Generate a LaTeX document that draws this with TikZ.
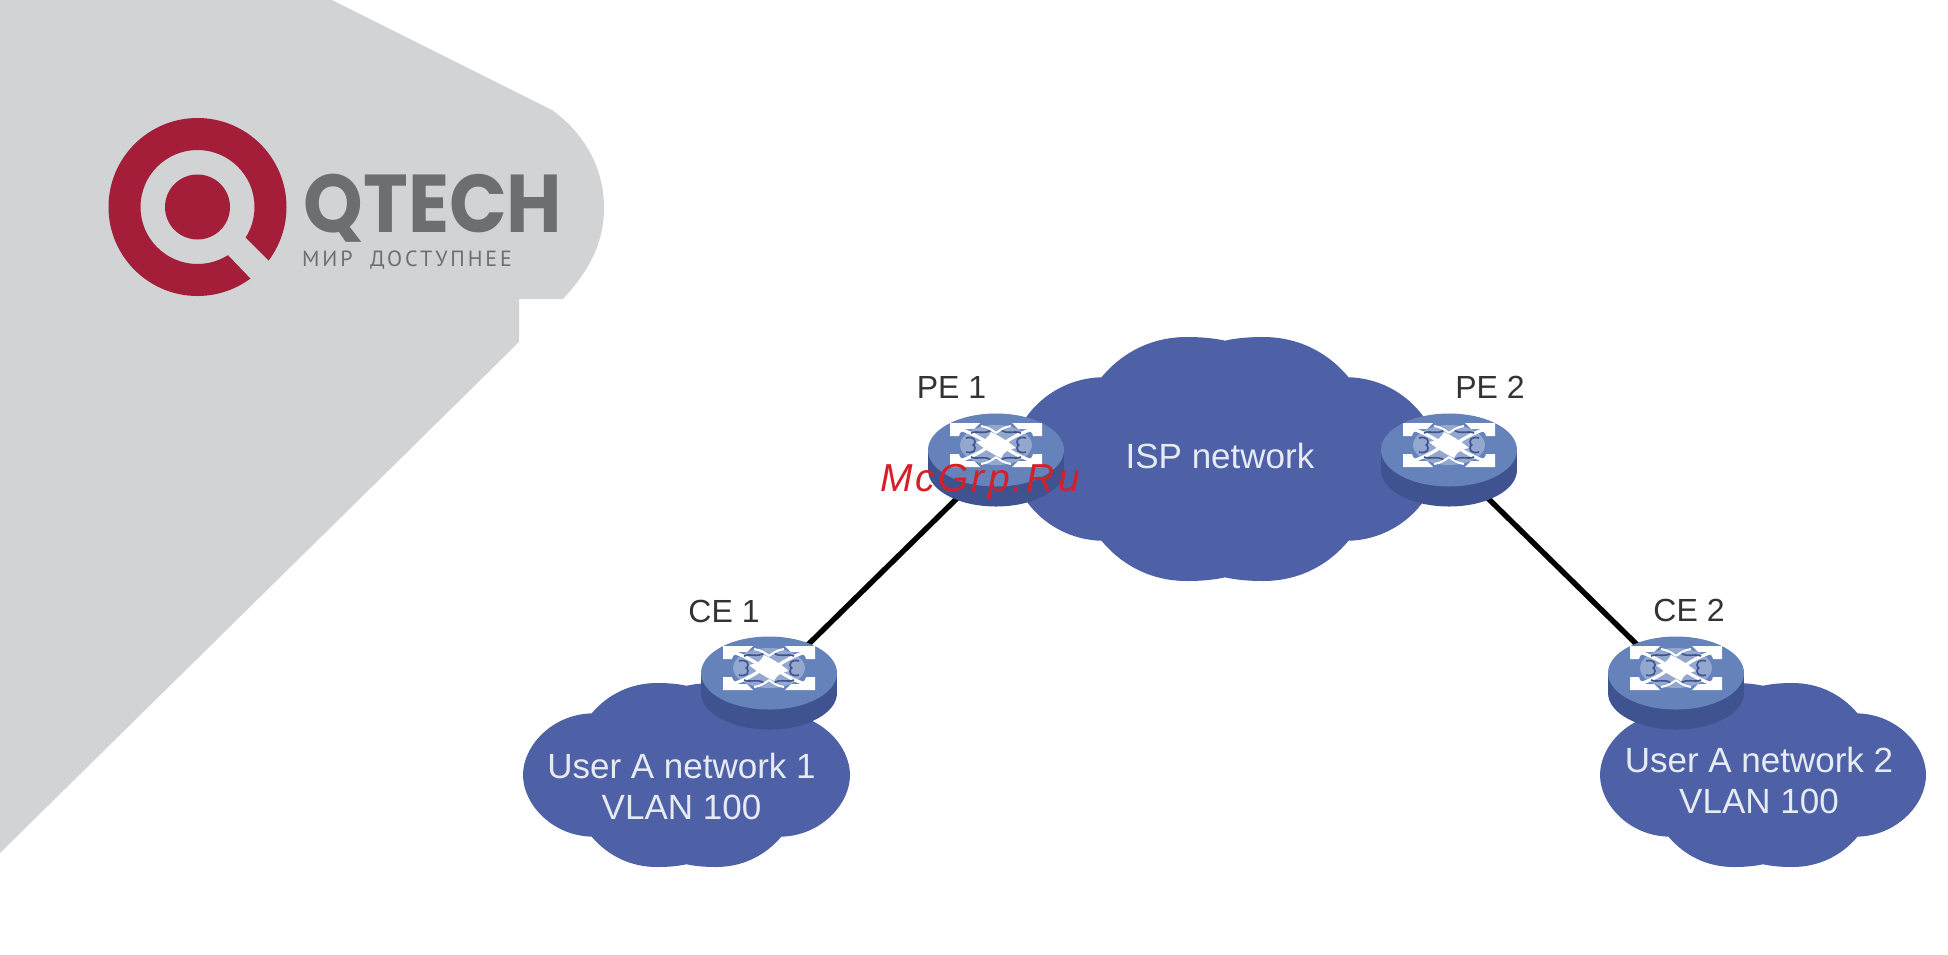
\documentclass[tikz,border=0pt]{standalone}
\usepackage{fontspec}
\setmainfont{Liberation Sans}
\newfontfamily\logofont{Poppins}
\newfontfamily\logosub[LetterSpace=13]{PT Sans}
\newfontfamily\markfont[LetterSpace=8]{Liberation Sans}
\definecolor{panelgray}{HTML}{D1D3D5}
\definecolor{logored}{HTML}{A41E3A}
\definecolor{logotext}{HTML}{6D6E70}
\definecolor{cloudblue}{HTML}{4F61A6}
\definecolor{switchtop}{HTML}{6682BA}
\definecolor{switchside}{HTML}{3E5390}
\definecolor{labeltext}{HTML}{333333}
\definecolor{cloudtext}{HTML}{E6EAF3}
\definecolor{markred}{HTML}{D42027}
\tikzset{
  netcloud/.pic={
    \fill[cloudblue] (-.58,-.67) .. controls (-.48,-.88) and (-.34,-1) .. (-.18,-1)
      .. controls (-.11,-1) and (-.05,-.99) .. (0,-.97)
      .. controls (.05,-.99) and (.11,-1) .. (.18,-1)
      .. controls (.34,-1) and (.48,-.88) .. (.58,-.67)
      .. controls (.82,-.66) and (1,-.32) .. (1,0)
      .. controls (1,.32) and (.82,.66) .. (.58,.67)
      .. controls (.48,.88) and (.34,1) .. (.18,1)
      .. controls (.11,1) and (.05,.99) .. (0,.97)
      .. controls (-.05,.99) and (-.11,1) .. (-.18,1)
      .. controls (-.34,1) and (-.48,.88) .. (-.58,.67)
      .. controls (-.82,.66) and (-1,.32) .. (-1,0)
      .. controls (-1,-.32) and (-.82,-.66) .. (-.58,-.67) -- cycle;
  },
  switchdev/.pic={
    \fill[switchside] (0,10) ellipse [x radius=68, y radius=36.5];
    \fill[switchside] (-68,-10) rectangle (68,10);
    \fill[switchtop] (0,-10) ellipse [x radius=68, y radius=36.5];
    \begin{scope}[yshift=7.5pt]
      \fill[white,opacity=.3] (0,0) ellipse [x radius=36, y radius=20];
      \foreach \sx/\sy in {1/1,-1/1,1/-1,-1/-1} {
        \begin{scope}[xscale=\sx,yscale=\sy]
          \fill[white] (46,22) -- (16,22) -- (22,16) -- (31,16) -- (36,12)
            -- (37,9) -- (46,9) -- cycle;
          \draw[white,line width=1.6pt] (36,16) .. controls (28,13) and (20,10) .. (8,2);
          \draw[switchside,line width=.8pt] (30,7) .. controls (23,9) and (18,5) .. (23,-1);
          \draw[switchside,line width=.8pt] (5,15) .. controls (12,10) and (18,15) .. (25,12);
          \draw[white,line width=1pt] (15,19) .. controls (8,18) and (4,15) .. (0,12);
        \end{scope}
      }
      \fill[white] (-20,-3) .. controls (-11,-5) and (-8,-7) .. (-5,-13)
        .. controls (3,-9) and (9,-6) .. (20,3)
        .. controls (11,5) and (8,7) .. (5,13)
        .. controls (-3,9) and (-9,6) .. (-20,-3) -- cycle;
    \end{scope}
  }
}
\begin{document}
\begin{tikzpicture}[
  x=.5pt, y=-.5pt,
  devlabel/.style={font=\fontsize{16}{19}\selectfont, text=labeltext, inner sep=0pt},
  cloudlabel/.style={font=\fontsize{17.5}{20.5}\selectfont, text=cloudtext, align=center, inner sep=0pt},
  link/.style={draw=black, line width=2.7pt}
]
\useasboundingbox (0,0) rectangle (1948,954);

% Panel
\fill[panelgray] (0,0) -- (332,0) -- (552,110) .. controls (588,136) and (604,172) .. (604,208)
  .. controls (604,244) and (588,272) .. (563,299) -- (519,299) -- (519,342) -- (0,853) -- cycle;

% Logo
\fill[logored,even odd rule] (197.5,207) circle [radius=89] (197.5,207) circle [radius=57];
\fill[logored] (197.5,207) circle [radius=32.5];
\fill[panelgray] (245,237) -- (272,264) -- (253,281) -- (228,255) -- cycle;
\node[font=\fontsize{41}{41}\logofont\bfseries\selectfont, text=logotext, inner sep=0pt, xscale=.925, transform shape] (brand) at (433,208) {QTECH};
\node[font=\fontsize{11}{12}\logosub\selectfont, text=logotext, inner sep=0pt] (slogan) at (407,260) {МИР\ \ ДОСТУПНЕЕ};

% Clouds
\pic[xscale=213,yscale=122] at (1225,459) {netcloud};
\pic[xscale=163.5,yscale=92] at (686.5,775) {netcloud};
\pic[xscale=163,yscale=92] at (1763,775) {netcloud};

% Links
\coordinate (pe1) at (996,460);
\coordinate (pe2) at (1449,460);
\coordinate (ce1) at (769,683);
\coordinate (ce2) at (1676,683);
\draw[link] (ce1) -- (pe1);
\draw[link] (pe2) -- (ce2);

% Switches
\pic at (pe1) {switchdev};
\pic at (pe2) {switchdev};
\pic at (ce1) {switchdev};
\pic at (ce2) {switchdev};

% Labels
\node[devlabel] (pe1label) at (951.5,387) {PE 1};
\node[devlabel] (pe2label) at (1490,387) {PE 2};
\node[devlabel] (ce1label) at (724,611) {CE 1};
\node[devlabel] (ce2label) at (1689,610) {CE 2};
\node[cloudlabel] (isp) at (1220,456) {ISP network};
\node[cloudlabel] (usera1) at (681.5,786) {User A network 1\\VLAN 100};
\node[cloudlabel] (usera2) at (1759,780) {User A network 2\\VLAN 100};
\node[font=\fontsize{19.5}{19.5}\markfont\itshape\selectfont, text=markred, inner sep=0pt] (mark) at (980,482) {McGrp.Ru};
\end{tikzpicture}
\end{document}
